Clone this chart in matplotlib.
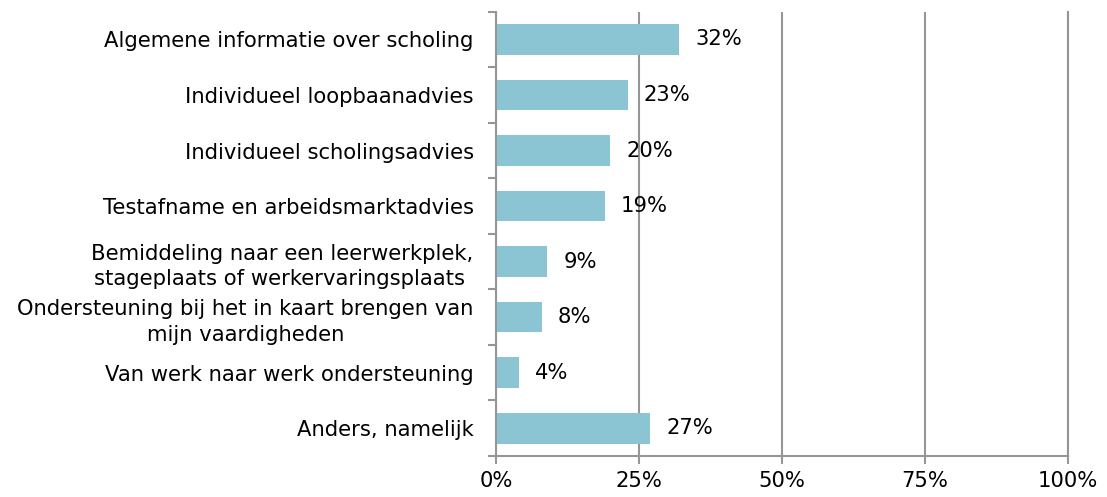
import numpy as np
import matplotlib.pyplot as plt
from matplotlib.ticker import FixedLocator

categories = ['Algemene informatie over scholing',
              'Individueel loopbaanadvies',
              'Individueel scholingsadvies',
              'Testafname en arbeidsmarktadvies',
              'Bemiddeling naar een leerwerkplek,\nstageplaats of werkervaringsplaats ',
              'Ondersteuning bij het in kaart brengen van\nmijn vaardigheden',
              'Van werk naar werk ondersteuning',
              'Anders, namelijk']
values = [32, 23, 20, 19, 9, 8, 4, 27]
xticks = [0, 25, 50, 75, 100]
xlabels = ['0%', '25%', '50%', '75%', '100%']

grey = '#969696'
fs = 15.2
fig = plt.figure(figsize=(11.07, 4.97), dpi=100)
ax = fig.add_axes([0.448, 0.0825, 0.517, 0.894])
y = np.arange(len(categories))
ax.barh(y, values, height=0.55, color='#8BC5D4', zorder=3)
for yi, v in zip(y, values):
    ax.text(v + 2.8, yi, f'{v}%', va='center', ha='left', fontsize=fs, zorder=4)

ax.set_xlim(0, 100)
ax.set_ylim(len(categories) - 0.5, -0.5)
ax.set_xticks(xticks)
ax.set_xticklabels(xlabels, fontsize=fs)
ax.set_yticks(y)
ax.set_yticklabels(categories, fontsize=fs, multialignment='center',
                   linespacing=1.35)
ax.yaxis.set_minor_locator(FixedLocator(np.arange(-0.5, len(categories), 1)))
ax.tick_params(axis='y', which='major', length=0, pad=16)
ax.tick_params(axis='y', which='minor', length=6, width=1.5, color=grey)
ax.tick_params(axis='x', length=6, width=1.5, color=grey, pad=5)
ax.grid(axis='x', color=grey, linewidth=1.5, zorder=0)
ax.spines['top'].set_visible(False)
for s in ['left', 'bottom', 'right']:
    ax.spines[s].set_color(grey)
    ax.spines[s].set_linewidth(1.5)
    ax.spines[s].set_zorder(5)

fig.savefig('out.png', dpi=100)
